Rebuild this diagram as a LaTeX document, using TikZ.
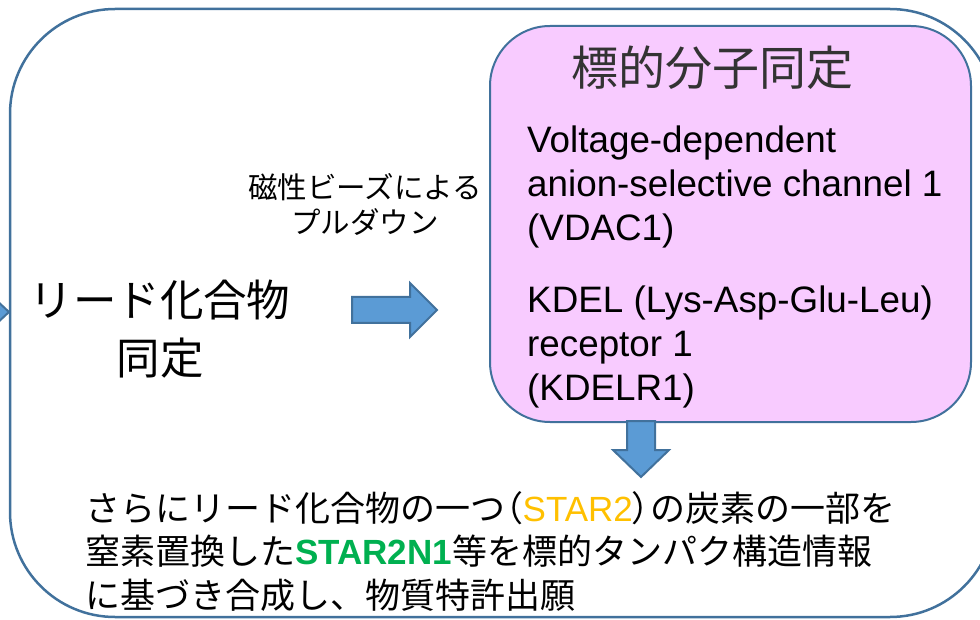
\documentclass[tikz,border=0pt]{standalone}
\usepackage{fontspec}
\setmainfont{Liberation Sans}
\newfontfamily\jp{Noto Sans CJK JP}
\newfontfamily\jpprop[RawFeature=+palt]{Noto Sans CJK JP}
\definecolor{frameblue}{HTML}{41719C}
\definecolor{arrowblue}{HTML}{5B9BD5}
\definecolor{targetpink}{HTML}{F8CBFF}
\definecolor{staryellow}{HTML}{FFC000}
\definecolor{stargreen}{HTML}{00B050}
\begin{document}
\begin{tikzpicture}[x=1pt,y=-1pt,
    frame/.style={draw=frameblue,line width=2.5pt},
    blockarrow/.style={fill=arrowblue,draw=frameblue,line width=2pt,line join=miter},
    jptext/.style={inner sep=0pt,align=center,text=black}]
    \useasboundingbox (0,0) rectangle (980,620);
    % outer frame and target box
    \draw[frame,rounded corners=105pt] (10,9) rectangle (995,617);
    \draw[frame,line width=2pt,fill=targetpink,rounded corners=60pt] (490,26) rectangle (971,422);
    % block arrows
    \draw[blockarrow] (-6,298) -- (9,312) -- (-6,326) -- cycle;
    \draw[blockarrow] (352,297) -- (410,297) -- (410,283) -- (437,310) -- (410,337) -- (410,323) -- (352,323) -- cycle;
    \draw[blockarrow] (627,421) -- (655,421) -- (655,450) -- (669,450) -- (641,477) -- (613,450) -- (627,450) -- cycle;
    % texts
    \node[jptext,font=\jp\fontsize{47}{56}\selectfont,text=black!80] (title) at (712,68) {標的分子同定};
    \node[jptext,anchor=north west,align=left,font=\fontsize{36.8}{44}\selectfont] (vdac) at (527,126)
        {Voltage-dependent\\anion-selective channel 1\\(VDAC1)};
    \node[jptext,anchor=north west,align=left,font=\fontsize{36.8}{44}\selectfont] (kdel) at (527,286)
        {KDEL (Lys-Asp-Glu-Leu)\\receptor 1\\(KDELR1)};
    \node[jptext,font=\jp\fontsize{43.5}{58}\selectfont] (lead) at (160,329) {リード化合物\\同定};
    \node[jptext,font=\jp\fontsize{29.5}{35}\selectfont] (pulldown) at (365,204) {磁性ビーズによる\\プルダウン};
    \node[jptext,anchor=north west,align=left,font=\jp\fontsize{35}{43.5}\selectfont] (summary) at (85,491)
        {さらにリード化合物の一つ{\jpprop（}{\normalfont\color{staryellow}STAR2}{\jpprop）}の炭素の一部を\\
         窒素置換した{\normalfont\bfseries\color{stargreen}STAR2N1}等を標的タンパク構造情報\\
         に基づき合成し、物質特許出願};
\end{tikzpicture}
\end{document}
